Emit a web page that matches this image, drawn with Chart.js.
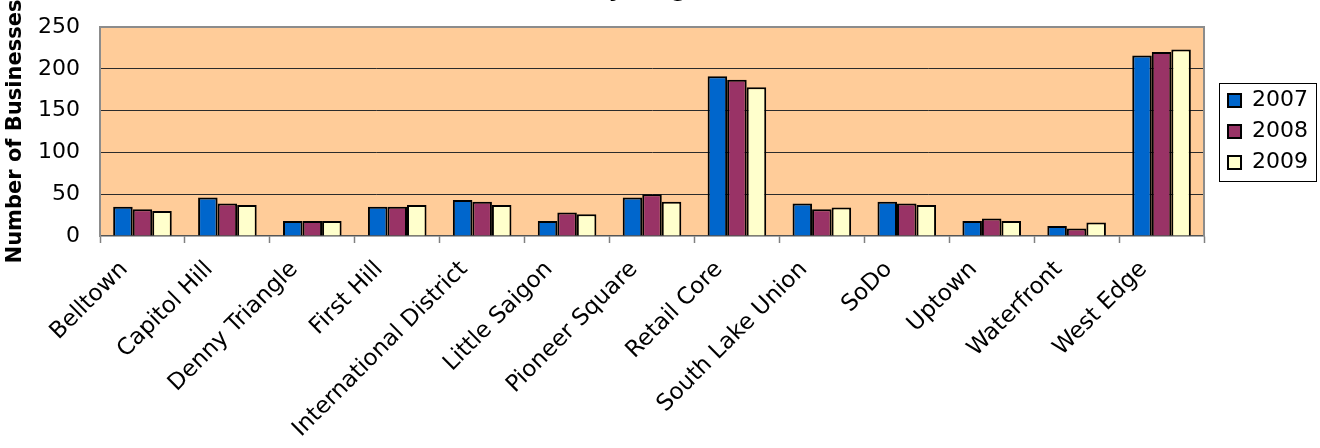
<!DOCTYPE html>
<html>
<head>
<meta charset="utf-8">
<script src="https://cdn.jsdelivr.net/npm/chart.js@4.4.1/dist/chart.umd.min.js"></script>
<style>
  html, body { margin: 0; padding: 0; background: #ffffff; overflow: hidden; }
  body { width: 1320px; height: 448px; position: relative; }
  #wrap { position: absolute; left: 0; top: -22px; width: 1320px; height: 470px; }
</style>
</head>
<body>
<div id="wrap"><canvas id="chart" width="1320" height="470"></canvas></div>
<script>
// Businesses counted per neighborhood, three survey years
const neighborhoods = [
  'Belltown', 'Capitol Hill', 'Denny Triangle', 'First Hill',
  'International District', 'Little Saigon', 'Pioneer Square', 'Retail Core',
  'South Lake Union', 'SoDo', 'Uptown', 'Waterfront', 'West Edge'
];
const years = ['2007', '2008', '2009'];
const counts2007 = [35, 46, 18, 35, 43, 18, 46, 191, 39, 41, 18, 12, 216];
const counts2008 = [32, 39, 18, 35, 41, 28, 50, 187, 32, 39, 21, 9, 220];
const counts2009 = [30, 37, 18, 37, 37, 26, 41, 178, 34, 37, 18, 16, 223];
const yTicks = [0, 50, 100, 150, 200, 250];

const titleText = '(Totals by Neighborhood)';
const yAxisTitle = 'Number of Businesses';

const FONT = '"DejaVu Sans", Verdana, sans-serif';

// Plot-area fill and grey frame
const plotFrame = {
  id: 'plotFrame',
  beforeDraw(chart) {
    const { ctx, chartArea: a } = chart;
    ctx.save();
    ctx.fillStyle = '#FFCC99';
    ctx.fillRect(a.left, a.top, a.right - a.left, a.bottom - a.top);
    ctx.restore();
  },
  beforeDatasetsDraw(chart) {
    const { ctx, chartArea: a } = chart;
    ctx.save();
    ctx.strokeStyle = '#8c8c8c';
    ctx.lineWidth = 2;
    ctx.beginPath();
    ctx.moveTo(a.left, a.bottom);
    ctx.lineTo(a.left, a.top);
    ctx.lineTo(a.right, a.top);
    ctx.lineTo(a.right, a.bottom);
    ctx.stroke();
    ctx.restore();
  }
};

// Thin box around the legend entries
const legendFrame = {
  id: 'legendFrame',
  afterDraw(chart) {
    const lg = chart.legend;
    if (!lg || !lg.legendHitBoxes || !lg.legendHitBoxes.length) return;
    const hb = lg.legendHitBoxes;
    let x0 = Infinity, y0 = Infinity, x1 = -Infinity, y1 = -Infinity;
    hb.forEach(b => {
      x0 = Math.min(x0, b.left); y0 = Math.min(y0, b.top);
      x1 = Math.max(x1, b.left + b.width); y1 = Math.max(y1, b.top + b.height);
    });
    const { ctx } = chart;
    ctx.save();
    ctx.strokeStyle = '#000';
    ctx.lineWidth = 1;
    ctx.strokeRect(Math.round(x0 - 9) + 0.5, Math.round(y0 - 7) + 0.5,
                   Math.round(x1 - x0 + 17), Math.round(y1 - y0 + 14));
    ctx.restore();
  }
};

const colors = ['#0066CC', '#993366', '#FFFFCC'];
const series = [counts2007, counts2008, counts2009];

new Chart(document.getElementById('chart'), {
  type: 'bar',
  data: {
    labels: neighborhoods,
    datasets: years.map((y, i) => ({
      label: y,
      data: series[i],
      backgroundColor: colors[i],
      borderColor: '#000000',
      borderWidth: 2,
      categoryPercentage: 0.69,
      barPercentage: 1.0
    }))
  },
  options: {
    responsive: false,
    animation: false,
    devicePixelRatio: 1,
    layout: { padding: { left: 0, right: 2, top: 0, bottom: 0 } },
    plugins: {
      title: {
        display: true,
        text: titleText,
        color: '#000',
        font: { family: FONT, size: 22, weight: 'bold', lineHeight: 1.2 },
        padding: { top: 0, bottom: 22.6 }
      },
      legend: {
        display: true,
        position: 'right',
        fullSize: false,
        labels: {
          color: '#000',
          font: { family: FONT, size: 22 },
          boxWidth: 13,
          boxHeight: 13,
          padding: 9
        }
      },
      tooltip: { enabled: false }
    },
    scales: {
      x: {
        type: 'category',
        grid: {
          display: true,
          drawOnChartArea: false,
          drawTicks: true,
          tickLength: 7,
          tickColor: '#808080',
          tickWidth: 1.5,
          offset: true
        },
        border: { display: true, color: '#555', width: 1.5 },
        ticks: {
          color: '#000',
          font: { family: FONT, size: 23 },
          maxRotation: 45,
          minRotation: 45,
          autoSkip: false,
          padding: 13,
          labelOffset: -18
        },
        afterFit(s) { s.height = 212; }
      },
      y: {
        type: 'linear',
        min: 0,
        max: 250,
        afterBuildTicks(s) { s.ticks = yTicks.map(v => ({ value: v })); },
        grid: {
          drawTicks: false,
          color: c => (c.tick && (c.tick.value === 250 || c.tick.value === 0)) ? 'rgba(0,0,0,0)' : '#2b2b2b',
          lineWidth: 1
        },
        border: { display: true, color: '#8c8c8c', width: 2 },
        ticks: {
          color: '#000',
          font: { family: FONT, size: 22 },
          padding: 20
        },
        title: {
          display: true,
          text: yAxisTitle,
          color: '#000',
          font: { family: FONT, size: 21, weight: 'bold' },
          padding: { top: 3, bottom: 0 }
        },
        afterFit(s) { s.width = 100; }
      },
      gap: {
        type: 'linear',
        position: 'right',
        display: true,
        grid: { display: false },
        border: { display: false },
        ticks: { display: false },
        afterFit(s) { s.width = 15; }
      }
    }
  },
  plugins: [plotFrame, legendFrame]
});
</script>
</body>
</html>
